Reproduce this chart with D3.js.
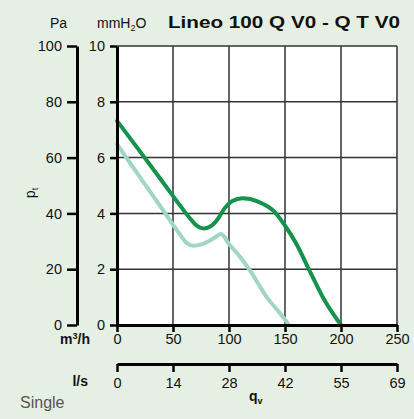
<!DOCTYPE html>
<html>
  <head>
    <meta charset="utf-8">
    <script src="https://d3js.org/d3.v7.min.js"></script>
    <title>Lineo 100 Q V0 - Q T V0</title>
    <style>
      body {
        margin: 0px;
        background: #e6efe3;
      }
      text {
        font-family: 'Liberation Sans', Arial, sans-serif;
        fill: #111111;
      }
      .tick text {
        font-size: 14.5px;
      }
    </style>
  </head>
  <body>
    <script>
      // curves: [m3/h, mmH2O]
      const curveQ = [[0, 7.32], [20, 6.25], [40, 5.17], [56, 4.3], [64, 3.88], [70, 3.6],
        [77, 3.46], [84, 3.55], [90, 3.8], [96, 4.18], [103, 4.44], [112, 4.54],
        [126, 4.42], [140, 4.08], [149, 3.62], [160, 2.92], [172, 1.94], [184, 0.98], [200, 0]];
      const curveQT = [[0, 6.48], [20, 5.33], [40, 4.18], [56, 3.26], [62, 2.95], [68, 2.84],
        [76, 2.9], [86, 3.1], [93, 3.26], [100, 2.9], [110, 2.44], [119, 1.94],
        [134, 0.98], [146, 0.4], [153, 0.03]];
      const flowTicks = [0, 50, 100, 150, 200, 250];
      const lsTicks = [0, 14, 28, 42, 55, 69];
      const mmTicks = [0, 2, 4, 6, 8, 10];
      const paTicks = [0, 20, 40, 60, 80, 100];

      const width = 414, height = 419;
      const svg = d3.select('body').append('svg')
        .attr('width', width)
        .attr('height', height);

      svg.append('rect')
        .attr('width', width)
        .attr('height', height)
        .attr('fill', '#e6efe3');

      const xScale = d3.scaleLinear().domain([0, 250]).range([117, 397]);
      const yScale = d3.scaleLinear().domain([0, 10]).range([325, 46]);
      const paScale = d3.scaleLinear().domain([0, 100]).range([325, 46]);
      // l/s axis spaced like the m3/h one
      const lsScale = d3.scalePoint().domain(lsTicks).range([117, 397]);

      // plot area
      svg.append('rect')
        .attr('x', xScale(0))
        .attr('y', yScale(10))
        .attr('width', xScale(250) - xScale(0))
        .attr('height', yScale(0) - yScale(10))
        .attr('fill', '#ffffff');

      const grid = svg.append('g').attr('stroke', '#333333').attr('stroke-width', 1.5);
      grid.selectAll('.vx').data(flowTicks.slice(1)).enter().append('line')
        .attr('x1', d => xScale(d)).attr('x2', d => xScale(d))
        .attr('y1', yScale(0)).attr('y2', yScale(10));
      grid.selectAll('.hy').data(mmTicks.slice(1)).enter().append('line')
        .attr('x1', xScale(0)).attr('x2', xScale(250))
        .attr('y1', d => yScale(d)).attr('y2', d => yScale(d));

      // curves
      const line = d3.line()
        .x(d => xScale(d[0]))
        .y(d => yScale(d[1]))
        .curve(d3.curveMonotoneX);

      svg.append('path').datum(curveQT)
        .attr('d', line)
        .attr('fill', 'none')
        .attr('stroke', '#a1d6c4')
        .attr('stroke-width', 4)
        .attr('stroke-linecap', 'round');

      svg.append('path').datum(curveQ)
        .attr('d', line)
        .attr('fill', 'none')
        .attr('stroke', '#16924a')
        .attr('stroke-width', 4)
        .attr('stroke-linecap', 'round');

      // axes
      const styleAxis = g => {
        g.select('.domain').attr('stroke', '#000').attr('stroke-width', 3);
        g.selectAll('.tick line').attr('stroke', '#000').attr('stroke-width', 2.5);
      };

      svg.append('g')
        .attr('transform', `translate(${xScale(0)},0)`)
        .call(d3.axisLeft(yScale).tickValues(mmTicks).tickSize(7).tickSizeOuter(0).tickPadding(5))
        .call(styleAxis);

      svg.append('g')
        .attr('transform', 'translate(77,0)')
        .call(d3.axisLeft(paScale).tickValues(paTicks).tickSize(10).tickSizeOuter(0).tickPadding(5))
        .call(styleAxis);

      svg.append('g')
        .attr('transform', `translate(0,${yScale(0)})`)
        .call(d3.axisBottom(xScale).tickValues(flowTicks).tickSize(7).tickSizeOuter(0).tickPadding(2))
        .call(styleAxis);

      svg.append('g')
        .attr('transform', 'translate(0,364)')
        .call(d3.axisBottom(lsScale).tickSize(8).tickSizeOuter(0).tickPadding(6))
        .call(styleAxis);

      // labels
      const header = svg.append('g');
      header.append('text')
        .attr('x', 50).attr('y', 28)
        .style('font-size', '14px')
        .text('Pa');

      const mm = header.append('text')
        .attr('x', 97).attr('y', 28)
        .style('font-size', '14px');
      mm.append('tspan').text('mmH');
      mm.append('tspan').attr('dy', 3).style('font-size', '9px').text('2');
      mm.append('tspan').attr('dy', -3).text('O');

      header.append('text')
        .attr('x', 168).attr('y', 28)
        .attr('textLength', 232)
        .attr('lengthAdjust', 'spacingAndGlyphs')
        .style('font-size', '17px')
        .style('font-weight', 'bold')
        .text('Lineo 100 Q V0 - Q T V0');

      const pt = svg.append('text')
        .attr('transform', 'translate(35,193) rotate(-90)')
        .style('font-size', '14px')
        .style('text-anchor', 'middle');
      pt.append('tspan').text('p');
      pt.append('tspan').attr('dy', 3).style('font-size', '9px').text('t');

      const m3 = svg.append('text')
        .attr('x', 90).attr('y', 344)
        .style('font-size', '14px')
        .style('font-weight', 'bold')
        .style('text-anchor', 'end');
      m3.append('tspan').text('m');
      m3.append('tspan').attr('dy', -5).style('font-size', '9px').text('3');
      m3.append('tspan').attr('dy', 5).text('/h');

      svg.append('text')
        .attr('x', 88).attr('y', 386)
        .style('font-size', '14px')
        .style('font-weight', 'bold')
        .style('text-anchor', 'end')
        .text('l/s');

      const qv = svg.append('text')
        .attr('x', 249).attr('y', 401)
        .style('font-size', '14px')
        .style('font-weight', 'bold');
      qv.append('tspan').text('q');
      qv.append('tspan').attr('dy', 3).style('font-size', '9px').text('v');

      svg.append('text')
        .attr('x', 20).attr('y', 408)
        .style('font-size', '16px')
        .style('fill', '#555555')
        .text('Single');
    </script>
  </body>
</html>
